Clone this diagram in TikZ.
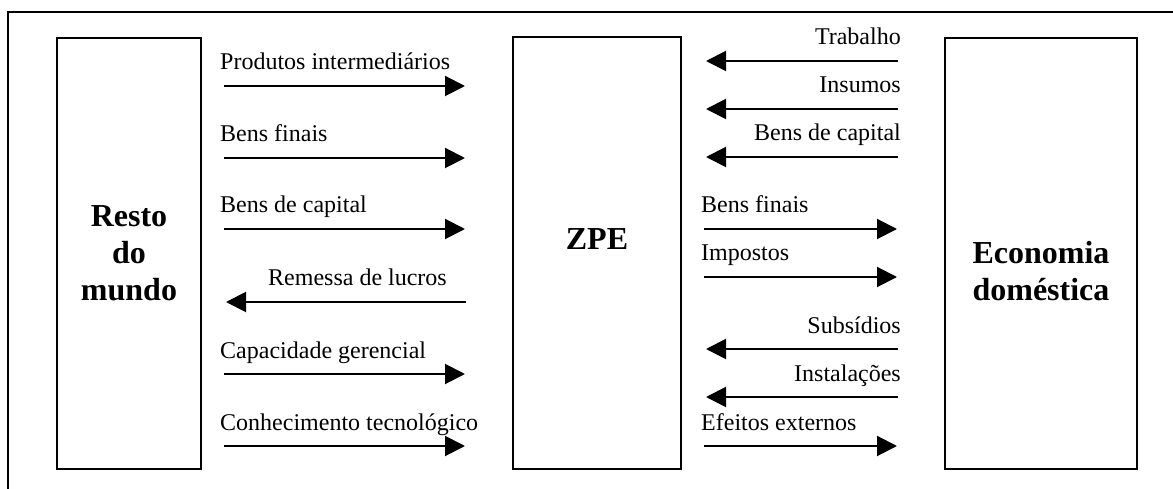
\documentclass[tikz,border=0pt]{standalone}
\usepackage{fontspec}
\setmainfont{Liberation Serif}
\usetikzlibrary{arrows.meta}
\begin{document}
\begin{tikzpicture}[x=1pt,y=-1pt,
  box/.style={draw,line width=2pt,inner sep=0pt,minimum width=#1,minimum height=431pt},
  flow/.style={line width=2pt,-{Triangle[length=20pt,width=20pt]}},
  lab/.style={inner sep=0pt,font=\fontsize{24}{28}\selectfont},
  big/.style={inner sep=0pt,font=\fontsize{32}{37}\selectfont\bfseries}]
\useasboundingbox (0,0) rectangle (1173,489);
\draw[line width=2pt] (8,489) -- (8,12) -- (1173,12);
% boxes
\node[box=144pt] (rm) at (129,253.5) {};
\node[box=168pt] (zpe) at (597,253) {};
\node[box=192pt] (ed) at (1041,253.5) {};
% box titles
\node[big,anchor=base] (rm1) at (129,227) {Resto};
\node[big,anchor=base] (rm2) at (129,263) {do};
\node[big,anchor=base] (rm3) at (129,300) {mundo};
\node[big,anchor=base] (z1) at (597,250) {ZPE};
\node[big,anchor=base] (ed1) at (1041,263) {Economia};
\node[big,anchor=base] (ed2) at (1041,300) {doméstica};
% left flows (Resto do mundo <-> ZPE)
\foreach \y/\t [count=\i] in {86/Produtos intermediários,158/Bens finais,229/Bens de capital,374/Capacidade gerencial,446/Conhecimento tecnológico}{
  \coordinate (la\i) at (224,\y);
  \coordinate (lb\i) at (465,\y);
  \draw[flow] (la\i) -- (lb\i);
  \node[lab,anchor=base west] (lt\i) at (220,\y-16) {\t};
}
\coordinate (ra) at (466,302);
\coordinate (rb) at (226,302);
\draw[flow] (ra) -- (rb);
\node[lab,anchor=base east] (rt) at (447,285) {Remessa de lucros};
% right flows, leftward (Economia -> ZPE)
\foreach \y/\t [count=\i] in {61/Trabalho,109/Insumos,157/Bens de capital,349/Subsídios,397/Instalações}{
  \coordinate (ea\i) at (898,\y);
  \coordinate (eb\i) at (706,\y);
  \draw[flow] (ea\i) -- (eb\i);
  \node[lab,anchor=base east] (et\i) at (901,\y-16) {\t};
}
% right flows, rightward (ZPE -> Economia)
\foreach \y/\t [count=\i] in {229/Bens finais,277/Impostos,446/Efeitos externos}{
  \coordinate (za\i) at (704,\y);
  \coordinate (zb\i) at (897,\y);
  \draw[flow] (za\i) -- (zb\i);
  \node[lab,anchor=base west] (zt\i) at (701,\y-16) {\t};
}
\end{tikzpicture}
\end{document}
